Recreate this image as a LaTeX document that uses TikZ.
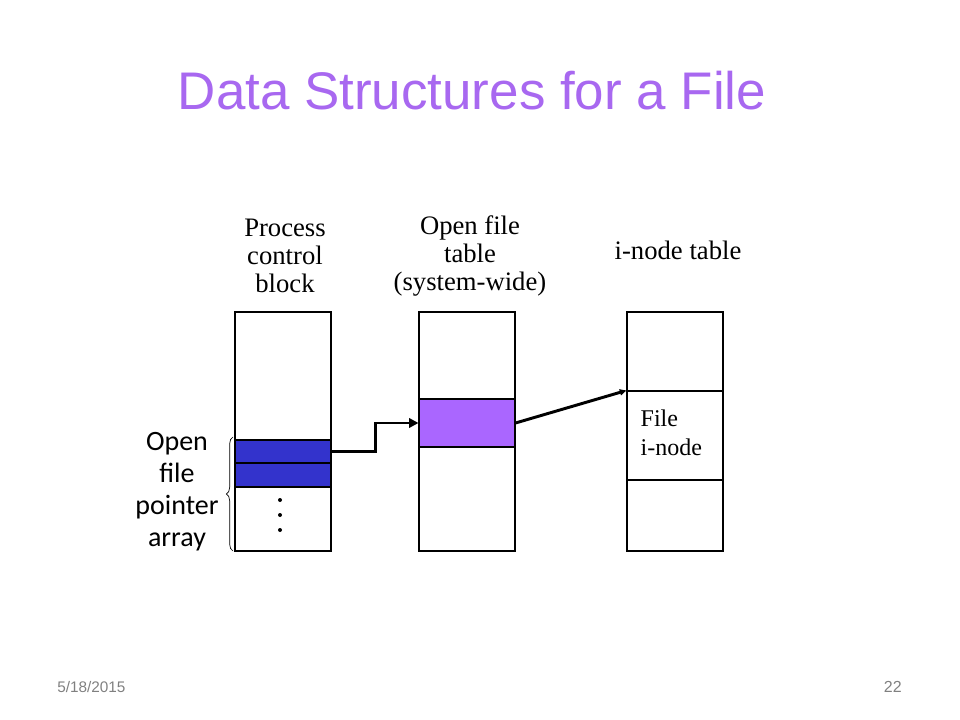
\documentclass[tikz,border=0pt]{standalone}
\usepackage{fontspec}
\setmainfont{Liberation Serif}
\newfontfamily\arialfont{Liberation Sans}
\newfontfamily\calibrifont{Carlito}
\usetikzlibrary{arrows.meta, decorations.pathreplacing}
\definecolor{titlepurple}{RGB}{168,104,240}
\definecolor{rowblue}{RGB}{51,51,204}
\definecolor{rowpurple}{RGB}{170,102,255}
\tikzset{
  tbl/.style={draw, line width=0.8pt, minimum width=72pt, minimum height=179.25pt, inner sep=0pt},
  row/.style={draw, line width=0.8pt, minimum width=72pt, inner sep=0pt},
  hdr/.style={align=center, font=\fontsize{20}{21}\selectfont},
  ptr/.style={line width=2.2pt, -{Triangle[length=7pt,width=7pt]}}
}
\begin{document}
\begin{tikzpicture}[x=0.75pt,y=-0.75pt]
\useasboundingbox (0,0) rectangle (960,720);
\node (title) at (472,91){\arialfont\fontsize{39.7}{44}\selectfont\color{titlepurple}Data Structures for a File};
\node (date) [anchor=west, inner sep=0pt] at (57,687){\arialfont\fontsize{11.5}{12}\selectfont\color{gray}5/18/2015};
\node (page) [anchor=east, inner sep=0pt] at (902,687){\arialfont\fontsize{12}{12}\selectfont\color{gray}22};

% headers
\node (hpcb) [hdr] at (285,256){Process\\control\\block};
\node (hoft) [hdr] at (470,256){Open file\\table\\(system-wide)};
\node (hit) [hdr] at (678,250){i-node table};

% tables
\node (pcb) [tbl] at (283,431.5){};
\node (oft) [tbl] at (467,431.5){};
\node (itab) [tbl] at (675,431.5){};

\node (fd1) [row, fill=rowblue, minimum height=17.25pt] at (283,451.5){};
\node (fd2) [row, fill=rowblue, minimum height=18pt] at (283,475){};
\node (entry) [row, fill=rowpurple, minimum height=36pt] at (467,423){};
\node (inode) [row, minimum height=66.75pt] at (675,435.5){};
\node (ftxt) [anchor=west, align=left, font=\fontsize{18}{21.75}\selectfont] at (636,432.5){File\\i-node};

\foreach \y in {500,515,530}{\fill (280,\y) circle (1.5pt);}

% open file pointer array
\node (lbl) [align=center, font=\calibrifont\fontsize{21}{24}\selectfont] at (177,492){Open\\file\\pointer\\array};
\coordinate (btop) at (233,437);\coordinate (bbot) at (233,551);
\draw[line width=0.5pt, decorate, decoration={brace, amplitude=5pt}] (bbot) -- (btop);

% pointers
\draw[ptr] (fd1.east) -- ++(44,0) |- (entry.west);
\draw[ptr, -{Triangle[length=5pt,width=4.5pt]}] (entry.east) -- (inode.north west);
\end{tikzpicture}
\end{document}
